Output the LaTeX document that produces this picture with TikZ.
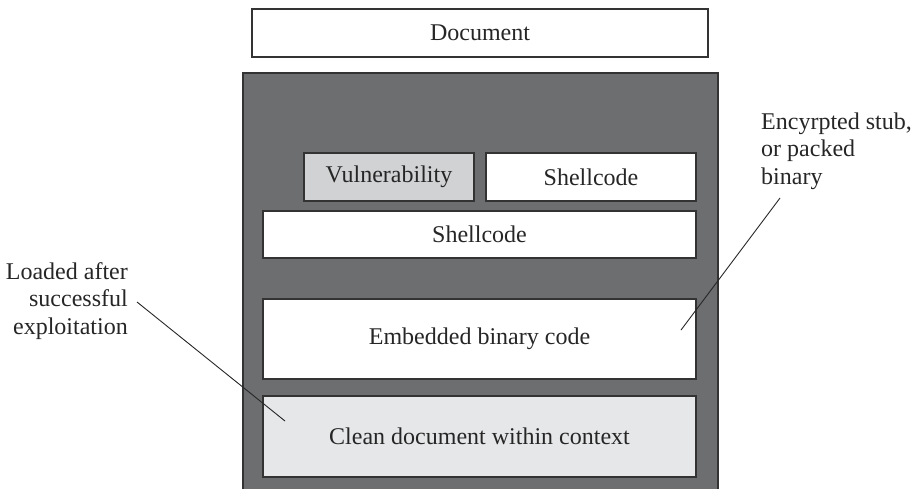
\documentclass[tikz,border=0pt]{standalone}
\usepackage{fontspec}
\setmainfont{Liberation Serif}
\definecolor{darkfill}{HTML}{6D6E70}
\definecolor{vulnfill}{HTML}{D1D2D4}
\definecolor{cleanfill}{HTML}{E6E7E8}
\definecolor{linec}{HTML}{333333}
\begin{document}
\begin{tikzpicture}[x=1pt,y=-1pt,
  box/.style={draw=linec, line width=1.3pt, inner sep=0pt, fill=white, font=\fontsize{24}{28}\selectfont, text=black!85},
  lbl/.style={inner sep=0pt, font=\fontsize{24}{27.5}\selectfont, text=black!85},
  conn/.style={draw=black!85, line width=0.9pt}]
\useasboundingbox (0,0) rectangle (913,488);
\clip (0,0) rectangle (913,488);
\node[box, minimum width=456pt, minimum height=48pt] (doc) at (480,33) {Document};
\node[box, fill=darkfill, minimum width=475pt, minimum height=425pt] (outer) at (480.5,285.5) {};
\node[box, fill=vulnfill, minimum width=170pt, minimum height=48pt] (vuln) at (389,177) {Vulnerability};
\node[box, minimum width=210pt, minimum height=48pt] (sc1) at (591,177) {Shellcode};
\node[box, minimum width=433pt, minimum height=47pt] (sc2) at (479.5,234.5) {Shellcode};
\node[box, minimum width=433pt, minimum height=80pt] (emb) at (479.5,339) {Embedded binary code};
\node[box, fill=cleanfill, minimum width=433pt, minimum height=81pt] (clean) at (479.5,436.5) {Clean document within context};
\node[lbl, align=right, anchor=east] (loaded) at (128,301) {Loaded after\\successful\\exploitation};
\node[lbl, align=left, anchor=west] (enc) at (761,151) {Encyrpted stub,\\or packed\\binary};
\coordinate (l1) at (137,302);
\coordinate (l2) at (285,421);
\coordinate (e1) at (780,198);
\coordinate (e2) at (681,330);
\draw[conn] (l1) -- (l2);
\draw[conn] (e1) -- (e2);
\end{tikzpicture}
\end{document}
